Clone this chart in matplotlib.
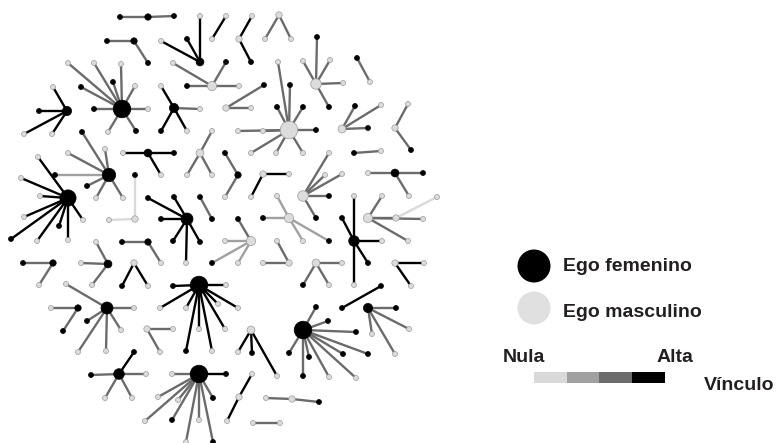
import matplotlib.pyplot as plt
from matplotlib.collections import LineCollection
from matplotlib.patches import Rectangle

# layout positions of each ego (pixel-like units, y grows downwards)
ego_pos = [(148, 17), (134, 41), (200, 62), (212, 39), (239, 39), (279, 15), (212, 86),
           (67, 111), (122, 109), (174, 108), (226, 108), (316, 84), (357, 58), (289, 130),
           (342, 129), (395, 128), (200, 153), (148, 153), (238, 175), (109, 175), (68, 198),
           (135, 219), (187, 219), (212, 219), (251, 241), (148, 242), (108, 264), (53, 263),
           (134, 263), (199, 285), (78, 308), (107, 308), (147, 329), (119, 374), (199, 374),
           (263, 174), (303, 196), (354, 153), (395, 173), (368, 218), (289, 218), (354, 241),
           (289, 263), (316, 263), (395, 263), (381, 286), (368, 308), (303, 330), (251, 330),
           (239, 397), (292, 399), (280, 423)]
ego_sex = "FFFMMMMFFFMMFMMMMFFFFMFFMFFFMFFFMFFMMFFMMFMMMFFFMMMM"

# alters per ego: (x, y, sex, tie strength 0=nula .. 3=alta)
alters = [
    [(120, 17, 'F', 2), (174, 16, 'F', 2)],
    [(107, 41, 'F', 2), (148, 63, 'F', 2)],
    [(200, 16, 'M', 3), (161, 41, 'M', 3), (187, 39, 'F', 3)],
    [(226, 16, 'M', 3)],
    [(252, 16, 'M', 3), (251, 62, 'F', 3)],
    [(265, 39, 'M', 2), (291, 39, 'M', 2)],
    [(173, 63, 'M', 2), (226, 62, 'F', 2), (187, 86, 'F', 2), (239, 86, 'M', 2)],
    [(53, 87, 'M', 3), (39, 111, 'F', 3), (24, 134, 'M', 3), (52, 134, 'M', 3)],
    [(68, 63, 'M', 2), (94, 63, 'M', 2), (121, 64, 'M', 2), (113, 82, 'F', 2), (81, 87, 'F', 2),
     (135, 86, 'M', 2), (94, 109, 'F', 2), (148, 109, 'M', 2), (108, 132, 'M', 2), (136, 131, 'F', 2)],
    [(161, 86, 'M', 3), (200, 109, 'M', 2), (161, 131, 'F', 3), (187, 131, 'M', 3)],
    [(251, 108, 'M', 2), (264, 85, 'F', 2)],
    [(317, 37, 'F', 2), (303, 61, 'M', 2), (330, 60, 'M', 2), (343, 83, 'M', 2), (329, 107, 'F', 2)],
    [(370, 82, 'M', 2)],
    [(278, 62, 'M', 2), (290, 85, 'F', 2), (277, 107, 'F', 2), (303, 107, 'F', 2), (316, 130, 'F', 2),
     (263, 131, 'M', 2), (238, 131, 'M', 2), (251, 153, 'M', 2), (276, 153, 'M', 2), (303, 153, 'M', 2)],
    [(355, 106, 'F', 2), (381, 105, 'M', 2), (368, 128, 'F', 2)],
    [(408, 104, 'M', 2), (411, 150, 'F', 2)],
    [(212, 131, 'M', 2), (187, 175, 'M', 2), (212, 175, 'M', 2)],
    [(123, 153, 'M', 3), (174, 153, 'F', 3), (161, 175, 'M', 3)],
    [(225, 153, 'F', 2), (225, 197, 'M', 2)],
    [(82, 132, 'F', 2), (68, 153, 'M', 2), (105, 149, 'M', 2), (55, 175, 'F', 1), (87, 186, 'F', 2),
     (96, 198, 'M', 2), (123, 198, 'M', 2)],
    [(38, 157, 'M', 3), (21, 178, 'M', 3), (40, 196, 'M', 3), (24, 217, 'M', 3), (11, 239, 'F', 3),
     (37, 241, 'M', 3), (59, 226, 'F', 3), (68, 240, 'M', 3), (83, 220, 'M', 3)],
    [(135, 175, 'F', 0), (109, 220, 'M', 0)],
    [(148, 198, 'F', 3), (174, 197, 'F', 3), (161, 219, 'F', 3), (173, 241, 'F', 3), (186, 263, 'M', 3),
     (200, 242, 'F', 3)],
    [(200, 197, 'F', 2)],
    [(238, 219, 'F', 2), (225, 241, 'M', 1), (212, 263, 'F', 1), (238, 263, 'M', 1)],
    [(122, 242, 'F', 2), (161, 263, 'M', 2)],
    [(96, 242, 'M', 2), (81, 263, 'M', 2), (92, 285, 'M', 2)],
    [(23, 263, 'F', 2), (39, 285, 'M', 2)],
    [(122, 286, 'F', 3), (148, 286, 'M', 3)],
    [(173, 286, 'F', 3), (226, 285, 'M', 3), (160, 308, 'M', 3), (186, 308, 'M', 3), (218, 304, 'M', 3),
     (238, 308, 'M', 3), (199, 329, 'M', 3), (225, 329, 'M', 3), (186, 351, 'F', 3), (212, 351, 'M', 3)],
    [(51, 308, 'M', 2), (63, 331, 'F', 2)],
    [(66, 284, 'M', 2), (134, 308, 'M', 2), (87, 321, 'F', 2), (121, 330, 'M', 2), (78, 352, 'M', 2),
     (106, 351, 'M', 2)],
    [(173, 329, 'M', 2), (160, 352, 'M', 2)],
    [(134, 352, 'F', 3), (91, 375, 'F', 2), (146, 374, 'M', 2), (105, 398, 'M', 2), (132, 398, 'M', 2)],
    [(172, 374, 'M', 2), (226, 374, 'F', 3), (213, 398, 'F', 2), (158, 397, 'M', 2), (178, 400, 'M', 2),
     (145, 421, 'M', 2), (172, 420, 'F', 2), (199, 420, 'M', 2), (186, 442, 'M', 2), (213, 442, 'F', 2)],
    [(289, 174, 'M', 3), (251, 197, 'M', 3)],
    [(329, 153, 'M', 2), (325, 175, 'M', 2), (342, 174, 'M', 2), (329, 196, 'F', 2), (316, 218, 'F', 2)],
    [(381, 151, 'M', 2)],
    [(368, 173, 'M', 2), (423, 173, 'F', 2), (409, 196, 'M', 2)],
    [(382, 196, 'M', 2), (396, 218, 'M', 2), (423, 219, 'M', 2), (408, 241, 'M', 2)],
    [(277, 196, 'M', 1), (263, 218, 'F', 1), (303, 241, 'M', 1), (329, 241, 'F', 1)],
    [(354, 196, 'M', 3), (342, 218, 'F', 3), (382, 241, 'M', 3), (368, 263, 'F', 3), (354, 285, 'M', 3)],
    [(277, 241, 'M', 2), (263, 263, 'M', 2)],
    [(342, 263, 'M', 2), (303, 285, 'F', 2), (329, 285, 'M', 2)],
    [(424, 263, 'M', 3), (411, 286, 'M', 3)],
    [(342, 308, 'F', 3)],
    [(396, 308, 'F', 2), (409, 329, 'M', 2), (372, 334, 'M', 2), (395, 354, 'M', 2)],
    [(316, 307, 'F', 2), (328, 321, 'F', 2), (356, 332, 'F', 2), (289, 353, 'F', 2), (303, 376, 'F', 2),
     (309, 357, 'F', 2), (329, 377, 'M', 2), (343, 354, 'F', 2), (356, 378, 'M', 2), (368, 354, 'F', 2)],
    [(238, 352, 'M', 3), (252, 353, 'F', 3), (277, 376, 'M', 3)],
    [(252, 374, 'M', 3), (227, 421, 'M', 3)],
    [(266, 398, 'M', 2), (319, 402, 'F', 2)],
    [(253, 423, 'M', 2)],
]

# ties between two alters
alter_ties = [((396, 218), (437, 197), 0)]
extra_nodes = [(437, 197, 'M')]

tie_colors = ['#d9d9d9', '#a0a0a0', '#6b6b6b', '#000000']
sex_colors = {'F': '#000000', 'M': '#dcdcdc'}
legend_labels = ['Ego femenino', 'Ego masculino']


def marker_area(diam_px):
    # scatter sizes are in points^2 (figure is 100 dpi)
    return (diam_px * 0.72) ** 2


def node_diam(degree):
    return 3.6 + 1.4 * degree


fig = plt.figure(figsize=(7.78, 4.43), dpi=100)
ax = fig.add_axes([0, 0, 1, 1])
ax.set_xlim(0, 778)
ax.set_ylim(443, 0)
ax.axis('off')

segs, cols = [], []
for (ex, ey), alts in zip(ego_pos, alters):
    for ax_, ay_, _, tie in alts:
        segs.append([(ex, ey), (ax_, ay_)])
        cols.append(tie_colors[tie])
for p, q, tie in alter_ties:
    segs.append([p, q])
    cols.append(tie_colors[tie])
ax.add_collection(LineCollection(segs, colors=cols, linewidths=1.7, zorder=1, capstyle='round'))

# alters
deg = {}
for p, q, _ in alter_ties:
    deg[p] = deg.get(p, 1) + 1
    deg[q] = deg.get(q, 0) + 1
ax_x, ax_y, ax_c, ax_s, ax_e = [], [], [], [], []
for alts in alters:
    for x, y, sex, _ in alts:
        ax_x.append(x)
        ax_y.append(y)
        ax_c.append(sex_colors[sex])
        ax_e.append('#9a9a9a' if sex == 'M' else '#000000')
        ax_s.append(marker_area(node_diam(deg.get((x, y), 1))))
for x, y, sex in extra_nodes:
    ax_x.append(x)
    ax_y.append(y)
    ax_c.append(sex_colors[sex])
    ax_e.append('#9a9a9a')
    ax_s.append(marker_area(node_diam(deg.get((x, y), 1))))
ax.scatter(ax_x, ax_y, s=ax_s, c=ax_c, edgecolors=ax_e, linewidths=0.5, zorder=2)

# egos, sized by number of alters
ex = [p[0] for p in ego_pos]
ey = [p[1] for p in ego_pos]
ec = [sex_colors[s] for s in ego_sex]
ee = ['#9a9a9a' if s == 'M' else '#000000' for s in ego_sex]
es = [marker_area(node_diam(len(a))) for a in alters]
ax.scatter(ex, ey, s=es, c=ec, edgecolors=ee, linewidths=0.5, zorder=3)

# legend
font = dict(family='Liberation Sans', fontsize=14, fontweight='bold', color='#231f20')
ax.scatter([534, 534], [266, 308], s=marker_area(33), c=['#000000', '#e0e0e0'],
           edgecolors='none', zorder=3)
ax.text(563, 271, legend_labels[0], va='baseline', **font)
ax.text(563, 317, legend_labels[1], va='baseline', **font)
ax.text(503, 362, 'Nula', va='baseline', **font)
ax.text(657, 362, 'Alta', va='baseline', **font)
ax.text(704, 390, 'Vínculo', va='baseline', **font)
w = (665 - 534) / len(tie_colors)
for i, c in enumerate(tie_colors):
    ax.add_patch(Rectangle((534 + i * w, 372), w, 11, facecolor=c, edgecolor='none'))

fig.savefig('out.png', dpi=100)
